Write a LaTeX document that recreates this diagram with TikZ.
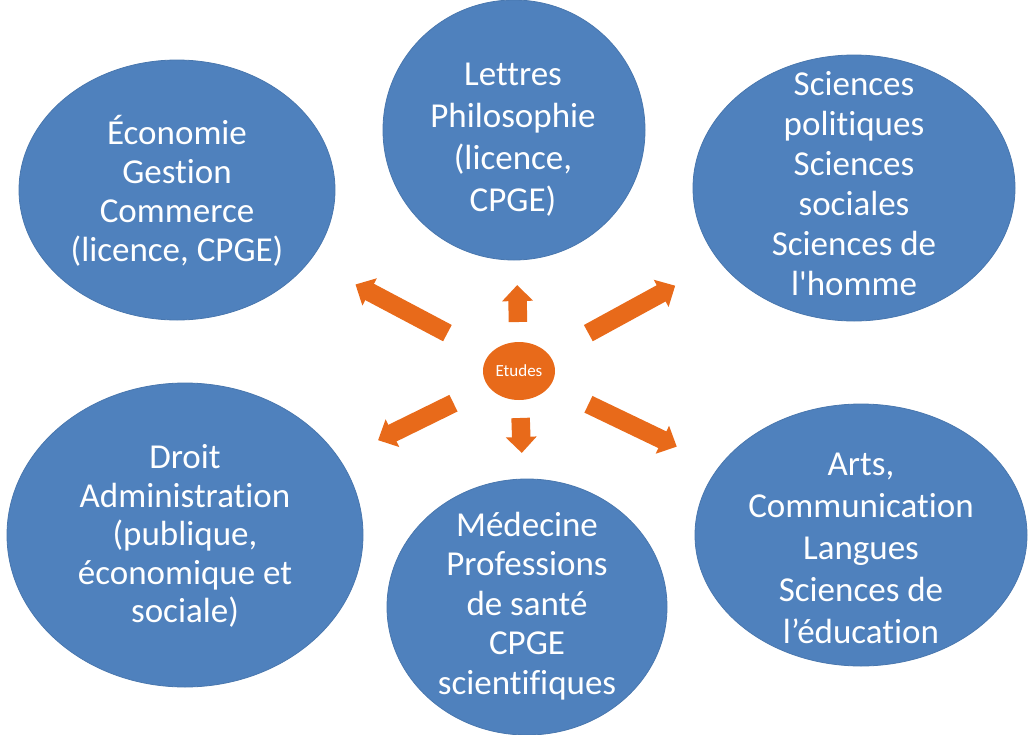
\documentclass[tikz,border=0pt]{standalone}
\usepackage{fontspec}
\newfontfamily\blobfont{Carlito}[Ligatures=NoCommon]
\usetikzlibrary{shapes.geometric,arrows.meta,calc}
\definecolor{blobblue}{RGB}{79,129,189}
\definecolor{arroworange}{RGB}{232,106,26}
\tikzset{
  blob/.style={ellipse, fill=blobblue, draw=blobblue!92!black, line width=0.8pt, inner sep=0pt},
  blobtext/.style={text=white, align=center, inner sep=0pt, font=\blobfont\fontsize{35}{#1}\selectfont},
  hub/.style={ellipse, fill=arroworange, inner sep=0pt, minimum width=72pt, minimum height=58pt,
    text=white, font=\blobfont\fontsize{17}{20}\selectfont},
  bigarrow/.style={draw=arroworange, line width=18.5pt, line cap=butt,
    -{Triangle[length=16pt, width=30pt]}}
}
\begin{document}
\begin{tikzpicture}[x=1pt, y=-1pt]
\useasboundingbox (0,0) rectangle (1034,734);
% ellipses
\node[blob, minimum width=316pt, minimum height=260pt] (eco) at (177,190) {};
\node[blob, minimum width=262pt, minimum height=260pt] (lettres) at (514,130) {};
\node[blob, minimum width=322pt, minimum height=266pt] (sci) at (854,188) {};
\node[blob, minimum width=356pt, minimum height=304pt] (droit) at (185,535) {};
\node[blob, minimum width=280pt, minimum height=256pt] (med) at (527,607) {};
\node[blob, minimum width=332pt, minimum height=262pt] (arts) at (861,535) {};
% texts
\node[blobtext=39] (eco-t) at (177,191) {Économie\\Gestion\\Commerce\\(licence, CPGE)};
\node[blobtext=42] (lettres-t) at (513,140) {Lettres\\Philosophie\\(licence,\\CPGE)};
\node[blobtext=40] (sci-t) at (854,184) {Sciences\\politiques\\Sciences\\sociales\\Sciences de\\l'homme};
\node[blobtext=38.5] (droit-t) at (185,536) {Droit\\Administration\\(publique,\\économique et\\sociale)};
\node[blobtext=39.5] (med-t) at (527,606) {Médecine\\Professions\\de santé\\CPGE\\scientifiques};
\node[blobtext=42] (arts-t) at (861,548) {Arts,\\Communication\\Langues\\Sciences de\\l’éducation};
% hub
\node[hub] (etudes) at (519,371) {Etudes};
% arrows
\draw[bigarrow] ($(etudes.center)!81pt!(eco.center)$) -- ($(etudes.center)!185pt!(eco.center)$);
\draw[bigarrow] ($(etudes.center)!49pt!(lettres.center)$) -- ($(etudes.center)!86pt!(lettres.center)$);
\draw[bigarrow] ($(etudes.center)!79pt!(sci.center)$) -- ($(etudes.center)!178pt!(sci.center)$);
\draw[bigarrow] ($(etudes.center)!73pt!(droit.center)$) -- ($(etudes.center)!157pt!(droit.center)$);
\draw[bigarrow] ($(etudes.center)!47pt!(med.center)$) -- ($(etudes.center)!82pt!(med.center)$);
\draw[bigarrow] ($(etudes.center)!77pt!(arts.center)$) -- ($(etudes.center)!175pt!(arts.center)$);
\end{tikzpicture}
\end{document}
